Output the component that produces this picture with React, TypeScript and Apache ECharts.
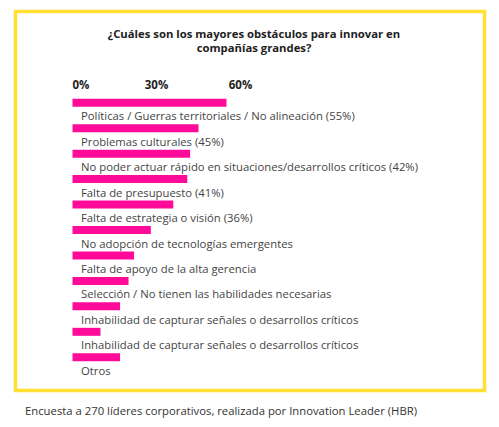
import React, { useEffect, useRef } from "react";
import * as echarts from "echarts";

const categories = [
  "Políticas / Guerras territoriales / No alineación (55%)",
  "Problemas culturales (45%)",
  "No poder actuar rápido en situaciones/desarrollos críticos (42%)",
  "Falta de presupuesto (41%)",
  "Falta de estrategia o visión (36%)",
  "No adopción de tecnologías emergentes",
  "Falta de apoyo de la alta gerencia",
  "Selección / No tienen las habilidades necesarias",
  "Inhabilidad de capturar señales o desarrollos críticos",
  "Inhabilidad de capturar señales o desarrollos críticos",
  "Otros",
];
const values = [55, 45, 42, 41, 36, 28, 22, 20, 17, 10, 17];
const axisMin = 0;
const axisMax = 60;
const axisInterval = 30;
const titleLines = ["¿Cuáles son los mayores obstáculos para innovar en", "compañías grandes?"];
const footerText = "Encuesta a 270 líderes corporativos, realizada por Innovation Leader (HBR)";

const FONT = "'Open Sans', 'Noto Sans', sans-serif";

export default function App() {
  const ref = useRef<HTMLDivElement>(null);
  useEffect(() => {
    if (!ref.current) return;
    const chart = echarts.init(ref.current, undefined, { renderer: "svg" });
    chart.setOption({
      animation: false,
      backgroundColor: "#ffffff",
      graphic: [
        {
          type: "rect",
          shape: { x: 15.5, y: 11.5, width: 469, height: 379 },
          style: { fill: "none", stroke: "#FFE033", lineWidth: 3.5 },
          z: 0,
        },
        ...titleLines.map((t, i) => ({
          type: "text",
          x: 254,
          y: 33 + i * 14,
          style: {
            text: t,
            font: `bold 11.3px ${FONT}`,
            fill: "#222222",
            textAlign: "center",
            textVerticalAlign: "middle",
          },
        })),
        {
          type: "text",
          x: 25,
          y: 410,
          style: {
            text: footerText,
            font: `11.3px ${FONT}`,
            fill: "#333333",
            textAlign: "left",
            textVerticalAlign: "middle",
          },
        },
      ],
      grid: { left: 72.5, top: 90, width: 168, height: 280, containLabel: false },
      xAxis: {
        type: "value",
        position: "top",
        min: axisMin,
        max: axisMax,
        interval: axisInterval,
        axisLine: { show: false },
        axisTick: { show: false },
        splitLine: { show: false },
        axisLabel: {
          formatter: "{value}%",
          fontFamily: FONT,
          fontWeight: "bold",
          fontSize: 11.5,
          color: "#222222",
          verticalAlign: "middle",
          margin: 5.5,
          alignMinLabel: "left",
        },
      },
      yAxis: {
        type: "category",
        data: categories,
        inverse: true,
        axisLine: { show: false },
        axisTick: { show: false },
        axisLabel: { show: false },
        splitLine: { show: false },
      },
      series: [
        {
          type: "bar",
          data: values,
          barWidth: 8,
          itemStyle: { color: "#FF0A99" },
          label: {
            show: true,
            position: [8.5, 17],
            align: "left",
            verticalAlign: "middle",
            formatter: "{b}",
            fontFamily: FONT,
            fontSize: 11.3,
            color: "#444444",
          },
        },
      ],
    });
    return () => chart.dispose();
  }, []);
  return (
    <div
      ref={ref}
      style={{ position: "fixed", left: 0, top: 0, width: 499, height: 427 }}
    />
  );
}
